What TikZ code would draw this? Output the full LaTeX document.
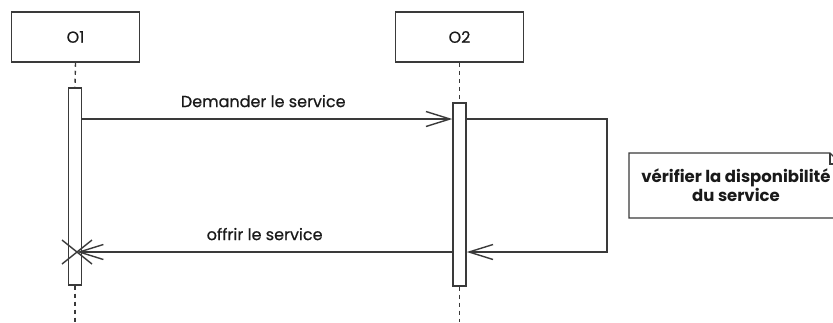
\documentclass[tikz,border=0pt]{standalone}
\usepackage{fontspec}
\setmainfont{Poppins}
\newfontfamily\labelfont[FakeBold=0.5]{Poppins}
\usetikzlibrary{arrows.meta}
\definecolor{ink}{HTML}{3A3A3A}
\definecolor{txt}{HTML}{1A1A1A}
\begin{document}
\begin{tikzpicture}[x=1pt,y=-1pt,
  line width=1.5pt, draw=ink,
  every node/.style={text=txt},
  obj/.style={draw=ink, line width=1.5pt, minimum width=128pt, minimum height=50pt, font=\labelfont\fontsize{16}{18}\selectfont},
  bar/.style={draw=ink, fill=white, line width=1.4pt, minimum width=13pt, inner sep=0pt},
  life/.style={draw=ink, line width=1.4pt, dash pattern=on 4pt off 4pt},
  msg/.style={draw=ink, line width=1.5pt, -{Straight Barb[length=24pt,width=15pt,line width=1.4pt]}},
  lbl/.style={font=\labelfont\fontsize{16}{18}\selectfont, inner sep=0pt}
]
\useasboundingbox (0,0) rectangle (833,322);
\clip (0,0) rectangle (833,322);

% objects
\node[obj] (o1) at (75.5,37) {O1};
\node[obj] (o2) at (459.5,37) {O2};

% activation bars
\node[bar, minimum height=197pt] (act1) at (75,186.5) {};
\node[bar, minimum height=183pt] (act2) at (459.5,194.5) {};

% lifelines
\coordinate (end1) at (75,322);
\coordinate (end2) at (459.5,322);
\draw[life] (o1.south) -- (act1.north);
\draw[life] (act1.south) -- (end1);
\draw[life] (o2.south) -- (act2.north);
\draw[life] (act2.south) -- (end2);

% request message
\draw[msg] (act1.east |- 0,119) -- (act2.west |- 0,119)
  node[lbl, midway, above=11pt, xshift=-4pt] {Demander le service};

% self call on O2
\coordinate (s1) at (607,119);
\coordinate (s2) at (607,252);
\draw[msg] (act2.east |- s1) -- (s1) -- (s2) -- (act2.east |- s2);

% reply message ending in destruction
\coordinate (kill) at (77,252);
\draw[msg] (act2.west |- kill) -- (kill)
  node[lbl, pos=0.5, above=11pt] {offrir le service};
\draw[ink, line width=1.4pt] (kill) ++(-15,-12) -- ++(30,24);
\draw[ink, line width=1.4pt] (kill) ++(-15,12) -- ++(30,-24);

% note
\coordinate (n1) at (629,153);
\coordinate (n2) at (841,218);
\draw[ink, line width=1.4pt, fill=white] (n1) -- (830,153) -- (841,164) -- (n2 |- 0,218) -- (629,218) -- cycle;
\draw[ink, line width=1.2pt] (830,153) -- (830,164) -- (841,164);
\node[font=\bfseries\fontsize{16.5}{15}\selectfont, align=center, inner sep=0pt] (note) at (736,185)
  {vérifier la disponibilité\\du service};
\end{tikzpicture}
\end{document}
